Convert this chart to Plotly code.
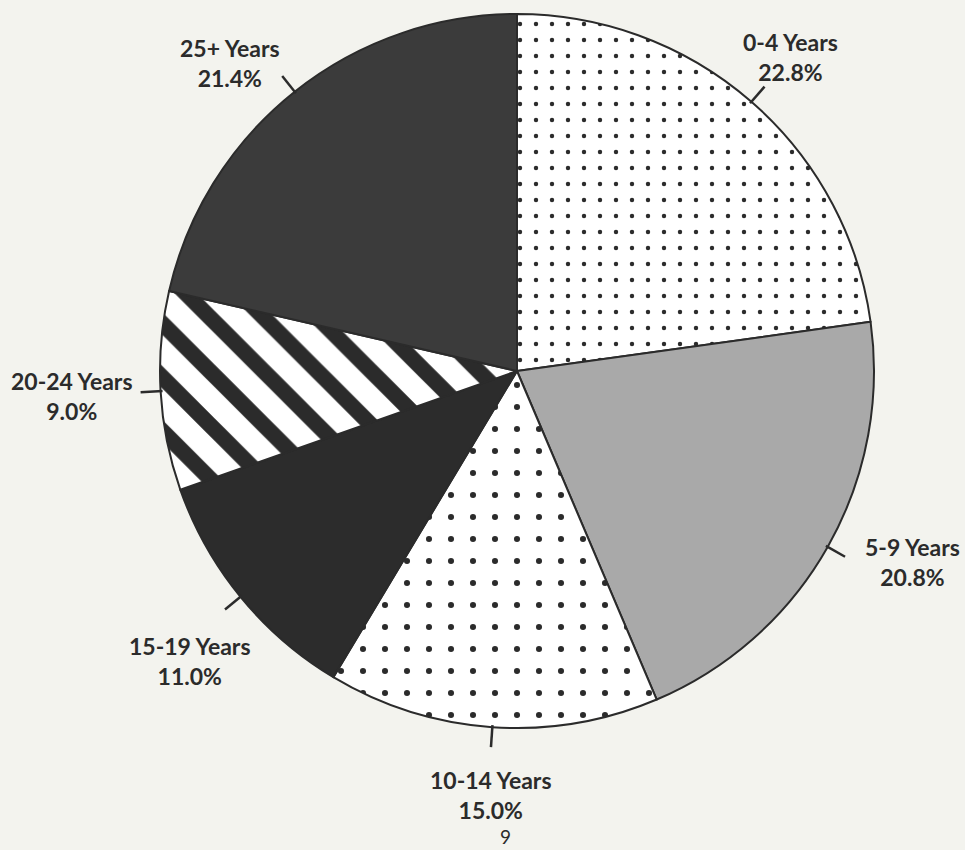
import numpy as np
import plotly.graph_objects as go

# ---- data ----
labels = ["0-4 Years", "5-9 Years", "10-14 Years", "15-19 Years", "20-24 Years", "25+ Years"]
values = [22.8, 20.8, 15.0, 11.0, 9.0, 21.4]
page_number = "9"

# ---- styling / layout ----
W, H = 965, 850
CX, CY, R = 517, 371, 357                    # pie centre and radius in pixels
label_r = [416, 439, 425, 437, 446, 421]     # distance of label centre from pie centre
label_dang = [0.0, -3.7, -0.5, -2.4, 0.0, -4.5]  # angular nudge of label (degrees)
BG = "#f3f3ee"
INK = "#2b2b2b"

fills = ["#ffffff", "#a9a9a9", "#ffffff", "#2c2c2c", "#ffffff", "#3b3b3b"]
pat_shape = [".", "", ".", "", "\\", ""]
pat_size = [16, 8, 22, 8, 38, 8]
pat_solid = [0.06, 0.3, 0.06, 0.3, 0.42, 0.3]

fig = go.Figure()
fig.add_trace(go.Pie(
    labels=labels, values=values, sort=False, direction="clockwise", rotation=0,
    textinfo="none", hoverinfo="label+percent", showlegend=False,
    domain=dict(x=[(CX - R) / W, (CX + R) / W], y=[(H - CY - R) / H, (H - CY + R) / H]),
    marker=dict(
        colors=fills,
        line=dict(color=INK, width=2),
        pattern=dict(shape=pat_shape, fgcolor=INK, bgcolor=fills, size=pat_size,
                     solidity=pat_solid, fillmode="replace"),
    ),
))

# angles of slice centres (clockwise from 12 o'clock)
vals = np.array(values)
cum = np.cumsum(vals) - vals / 2
mid = cum / vals.sum() * 2 * np.pi


def to_paper(px, py):
    return px / W, 1 - py / H


shapes = []
annotations = []
for lab, v, a, rl, da in zip(labels, values, mid, label_r, label_dang):
    dx, dy = np.sin(a), -np.cos(a)
    x0, y0 = to_paper(CX + (R - 2) * dx, CY + (R - 2) * dy)
    x1, y1 = to_paper(CX + (R + 20) * dx, CY + (R + 20) * dy)
    shapes.append(dict(type="line", xref="paper", yref="paper", x0=x0, y0=y0, x1=x1, y1=y1,
                       line=dict(color=INK, width=2.5)))
    al = a + np.radians(da)
    tx, ty = to_paper(CX + rl * np.sin(al), CY - rl * np.cos(al))
    annotations.append(dict(x=tx, y=ty, xref="paper", yref="paper", showarrow=False,
                            text=f"{lab}<br>{v:.1f}%", xanchor="center", yanchor="middle",
                            font=dict(family="Lato", size=23, color=INK, weight=700)))

annotations.append(dict(x=505 / W, y=0.0, xref="paper", yref="paper", showarrow=False,
                        text=page_number, xanchor="center", yanchor="bottom",
                        font=dict(family="Lato", size=19, color=INK)))

fig.update_layout(
    width=W, height=H, margin=dict(l=0, r=0, t=0, b=0),
    paper_bgcolor=BG, plot_bgcolor=BG,
    shapes=shapes, annotations=annotations,
)

fig.write_html("out.html", config={"displayModeBar": False},
               post_script="document.body.style.margin='0';document.body.style.overflow='hidden';")
